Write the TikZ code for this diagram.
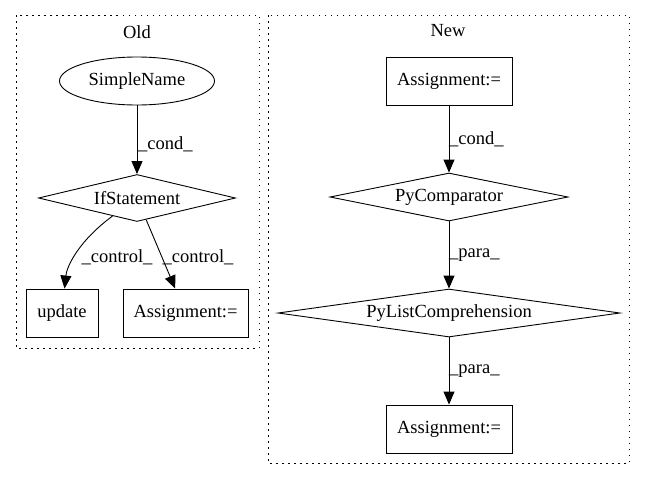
\documentclass[tikz,border=0pt]{standalone}
\usepackage{fontspec}
\setmainfont{Liberation Serif}
\usetikzlibrary{shapes.geometric,arrows.meta}
\begin{document}
\begin{tikzpicture}[x=1pt,y=-1pt,
  every node/.style={font=\fontsize{18.5}{21}\selectfont},
  box/.style={draw,line width=0.9pt,rectangle,inner sep=0pt},
  dia/.style={draw,line width=0.9pt,diamond,inner sep=0pt},
  ell/.style={draw,line width=0.9pt,ellipse,inner sep=0pt},
  lab/.style={inner sep=0pt},
  edge/.style={line width=0.9pt,-{Triangle[length=13pt,width=11pt]}},
  cluster/.style={line width=0.9pt,dash pattern=on 1.5pt off 4.5pt}]
\useasboundingbox (0,0) rectangle (645,480);
% clusters
\draw[cluster] (16,15) rectangle (259,348);
\draw[cluster] (268,15) rectangle (629,463);
\node (oldlab) at (137,32) {Old};
\node (newlab) at (448,31) {New};
% Old
\node[ell,minimum width=155,minimum height=48] (sn) at (137,81) {SimpleName};
\node[dia,aspect=4.19,minimum width=197,minimum height=47] (ifs) at (137,198) {IfStatement};
\node[box,minimum width=72,minimum height=48] (upd) at (62,313) {update};
\node[box,minimum width=125,minimum height=48] (asg1) at (185.5,313) {Assignment:=};
\draw[edge] (sn) -- (ifs);
\node[lab,anchor=west] (l1) at (138,144) {\_cond\_};
\draw[edge] (ifs) .. controls (80,240) and (67,265) .. (upd);
\node[lab] (l2) at (117,257) {\_control\_};
\draw[edge] (ifs) -- (asg1);
\node[lab] (l3) at (198,257) {\_control\_};
% New
\node[box,minimum width=126,minimum height=48] (asg2) at (449,81) {Assignment:=};
\node[dia,aspect=4.96,minimum width=238,minimum height=48] (pyc) at (449,197) {PyComparator};
\node[dia,aspect=7.125,minimum width=342,minimum height=48] (plc) at (449,313) {PyListComprehension};
\node[box,minimum width=126,minimum height=48] (asg3) at (449,429) {Assignment:=};
\draw[edge] (asg2) -- (pyc);
\node[lab,anchor=west] (l4) at (449,139) {\_cond\_};
\draw[edge] (pyc) -- (plc);
\node[lab,anchor=west] (l5) at (449,255) {\_para\_};
\draw[edge] (plc) -- (asg3);
\node[lab,anchor=west] (l6) at (449,371) {\_para\_};
\end{tikzpicture}
\end{document}
